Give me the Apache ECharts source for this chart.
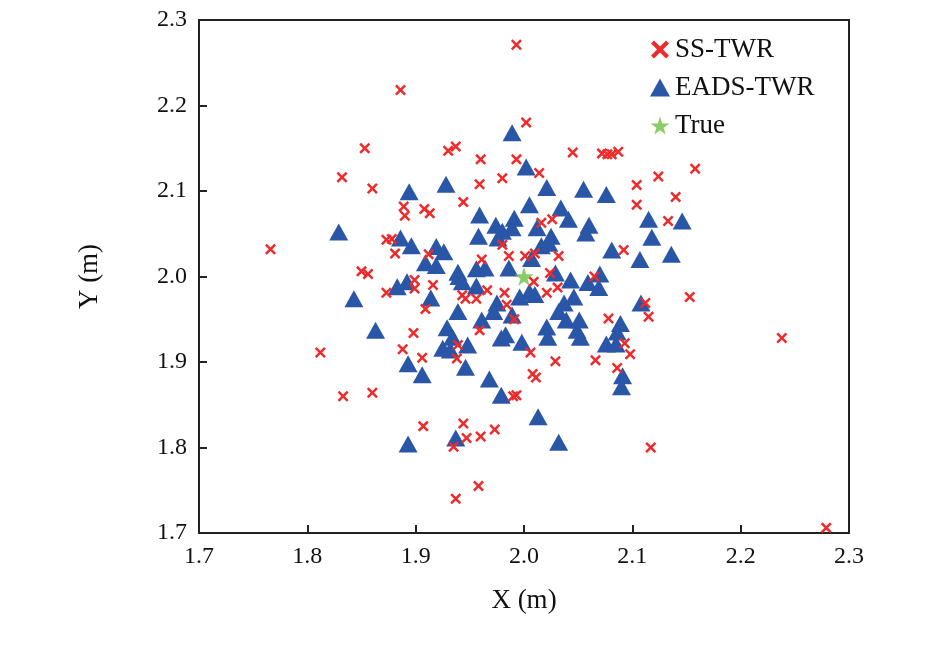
<!DOCTYPE html>
<html><head><meta charset="utf-8">
<script src="https://cdn.jsdelivr.net/npm/echarts@6/dist/echarts.min.js"></script>
<style>html,body{margin:0;padding:0;background:#fff}#c{width:945px;height:649px}</style>
</head><body><div id="c"></div>
<script>
const xTicks=[1.7,1.8,1.9,2.0,2.1,2.2,2.3];
const yTicks=[1.7,1.8,1.9,2.0,2.1,2.2,2.3];
const ssTWR=[[1.993,2.271],[1.886,2.218],[2.002,2.180],[1.853,2.150],[1.937,2.152],[1.930,2.147],[1.832,2.116],[1.960,2.137],[1.993,2.137],[2.045,2.145],[2.072,2.144],[2.077,2.143],[2.081,2.143],[2.087,2.146],[2.158,2.126],[2.124,2.117],[2.104,2.107],[2.140,2.093],[2.104,2.084],[2.133,2.065],[1.980,2.115],[2.014,2.121],[2.026,2.067],[2.016,2.063],[2.092,2.031],[1.986,2.024],[2.001,2.024],[2.010,2.027],[2.032,2.024],[2.024,2.004],[2.065,2.000],[1.860,2.103],[1.959,2.108],[1.944,2.087],[1.889,2.082],[1.890,2.071],[1.908,2.079],[1.913,2.074],[1.766,2.032],[1.873,2.043],[1.878,2.044],[1.881,2.027],[1.912,2.026],[1.961,2.020],[1.980,2.037],[1.850,2.006],[1.856,2.003],[1.899,1.996],[1.873,1.981],[1.899,1.986],[1.916,1.990],[1.909,1.962],[1.943,1.978],[1.946,1.974],[1.956,1.974],[1.966,1.984],[1.982,1.981],[1.984,1.967],[1.898,1.934],[1.959,1.937],[1.888,1.915],[1.906,1.905],[1.938,1.904],[1.939,1.920],[1.812,1.911],[1.833,1.860],[1.860,1.864],[1.990,1.860],[1.907,1.825],[1.944,1.828],[1.947,1.811],[1.960,1.813],[1.973,1.821],[1.935,1.801],[1.958,1.755],[1.937,1.740],[2.009,1.994],[2.021,1.981],[2.031,1.987],[1.991,1.950],[2.153,1.976],[2.112,1.969],[2.115,1.953],[2.078,1.951],[2.238,1.928],[2.093,1.922],[2.098,1.909],[2.006,1.911],[2.029,1.901],[2.066,1.902],[2.086,1.893],[2.008,1.886],[2.011,1.882],[1.993,1.861],[2.117,1.800],[2.279,1.706]];
const eadsTWR=[[1.989,2.168],[2.002,2.128],[2.021,2.104],[2.055,2.102],[2.076,2.096],[2.005,2.084],[2.034,2.080],[2.041,2.067],[1.991,2.068],[1.989,2.057],[2.012,2.057],[2.060,2.060],[2.057,2.051],[2.025,2.047],[2.115,2.067],[2.146,2.065],[2.118,2.046],[2.016,2.036],[2.023,2.039],[2.081,2.031],[2.107,2.020],[2.136,2.026],[2.007,2.021],[1.829,2.052],[1.894,2.099],[1.928,2.108],[1.959,2.072],[1.958,2.047],[1.974,2.060],[1.980,2.053],[1.976,2.045],[1.886,2.045],[1.896,2.036],[1.919,2.035],[1.926,2.029],[1.909,2.016],[1.919,2.013],[1.939,2.005],[1.956,2.009],[1.964,2.010],[1.986,2.010],[1.883,1.988],[1.892,1.994],[1.843,1.974],[1.914,1.975],[1.939,1.959],[1.940,2.000],[1.943,1.994],[1.956,1.989],[1.975,1.969],[1.972,1.959],[1.989,1.955],[1.961,1.949],[1.863,1.937],[1.929,1.940],[1.934,1.929],[1.925,1.916],[1.932,1.914],[1.948,1.920],[1.979,1.928],[1.983,1.932],[1.893,1.898],[1.906,1.885],[1.946,1.894],[1.968,1.880],[1.979,1.861],[1.893,1.804],[1.937,1.811],[1.996,1.976],[2.005,1.982],[2.010,1.979],[2.037,1.969],[2.046,1.976],[2.032,1.959],[2.039,1.949],[2.051,1.949],[2.021,1.941],[2.022,1.929],[2.049,1.937],[2.052,1.929],[1.998,1.923],[2.076,1.921],[2.085,1.921],[2.089,1.945],[2.086,1.935],[2.108,1.969],[2.091,1.884],[2.090,1.871],[2.013,1.836],[2.032,1.806],[2.043,1.996],[2.059,1.993],[2.069,1.987],[2.070,2.003],[2.029,2.004]];
const truePos=[[2.0,2.0]];
const xPath='path://M0,1.6L1.6,0L5,3.4L8.4,0L10,1.6L6.6,5L10,8.4L8.4,10L5,6.6L1.6,10L0,8.4L3.4,5Z';
const F='Liberation Serif';
const ch=echarts.init(document.getElementById('c'));
const ax=(name,gap,rot)=>({type:'value',min:1.7,max:2.3,interval:0.1,name:name,nameLocation:'middle',nameGap:gap,nameRotate:rot,
 nameTextStyle:{fontFamily:F,fontSize:27,color:'#111'},
 axisLine:{show:true,onZero:false,lineStyle:{color:'#222',width:2}},
 axisTick:{inside:true,length:8,lineStyle:{color:'#222',width:2}},
 axisLabel:{fontFamily:F,fontSize:24,color:'#111',formatter:v=>v.toFixed(1),margin:12},
 splitLine:{show:false}});
ch.setOption({
 animation:false,
 grid:{left:199,right:96,top:20,bottom:116,show:true,borderColor:'#222',borderWidth:2},
 xAxis:ax('X (m)',54,0),
 yAxis:ax('Y (m)',96,90),
 legend:{orient:'vertical',left:645,top:31,itemGap:11,itemWidth:20,itemHeight:18,
  textStyle:{fontFamily:F,fontSize:27,color:'#111'},
  data:['SS-TWR','EADS-TWR','True']},
 series:[
  {name:'SS-TWR',type:'scatter',symbol:xPath,symbolSize:11,data:ssTWR,itemStyle:{color:'#ee2a2a',opacity:1},z:3},
  {name:'EADS-TWR',type:'scatter',symbol:'triangle',symbolSize:[19,17],data:eadsTWR,itemStyle:{color:'#2a56a8',opacity:1},z:2},
  {name:'True',type:'scatter',symbol:'path://M50,0L61,35L98,35L68,57L79,91L50,70L21,91L32,57L2,35L39,35Z',symbolSize:19,data:truePos,itemStyle:{color:'#6cc040'},z:4}
 ]
});
</script></body></html>
